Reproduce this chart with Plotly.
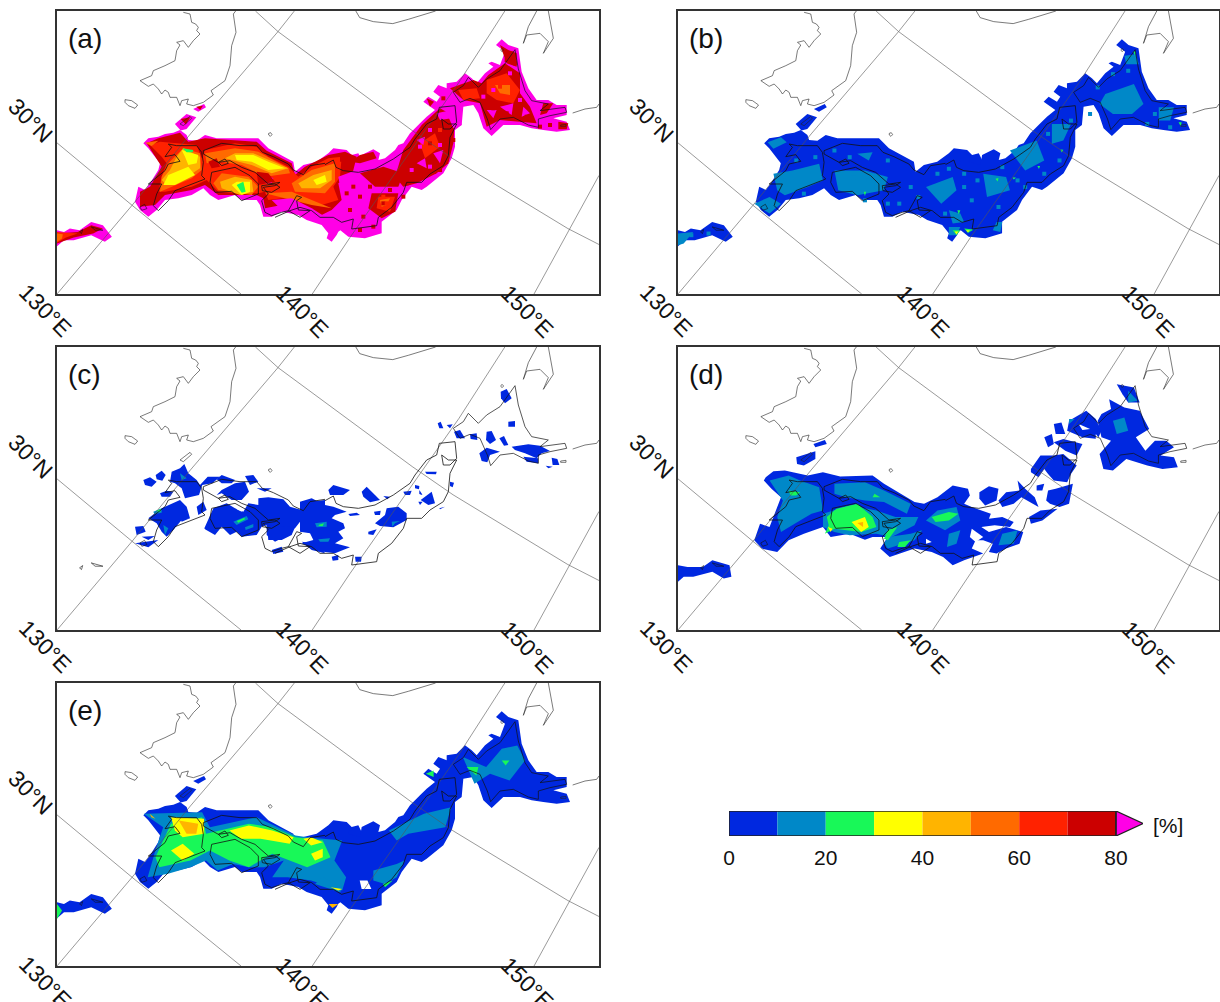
import plotly.graph_objects as go

# ---- colour classes (percent) ----
class_edges = [0, 10, 20, 30, 40, 50, 60, 70, 80]
class_colors = ["#0028e0", "#0088c8", "#18f858", "#ffff00", "#ffb400", "#ff6a00", "#ff2200", "#cc0000", "#ff00e6"]
tick_values = [0, 20, 40, 60, 80]
panel_letters = ["(a)", "(b)", "(c)", "(d)", "(e)"]

# crop frames the points were read in: left, right, bottom, top of the panel in that crop
frame_a = (147, 1540, 882, 30)
frame_b = (150, 1568, 882, 30)
frame_c = (147, 1540, 870, 18)
frame_d = (150, 1568, 870, 18)
frame_e = (147, 1540, 886, 38)
frame_a5 = (-204, 1422, 522, -327)
frame_a6 = (-849, 777, 792, -57)
frame_cw = (-204, 1422, 570, -279)
frame_ce = (-729, 897, 570, -279)
frame_cn = (-1029, 597, 765, -84)
frame_ck = (-204, 1422, 855, 6)

# ---- map-plane graticule ----
grid_130e = [(147, 882), (340, 615), (490, 400), (715, 92), (757, 30)]
grid_140e = [(803, 882), (900, 712), (1180, 245), (1298, 30)]
grid_150e = [(1373, 882), (1462, 690), (1540, 525)]
grid_30n = [(147, 427), (340, 615), (620, 882)]
grid_40n = [(657, 30), (715, 92), (1060, 390), (1165, 475), (1460, 685), (1540, 733)]

# ---- coastlines ----
coast_korea = [(175, 10), (195, 15), (200, 40), (212, 45), (220, 55), (215, 65), (225, 75), (205, 95), (190, 115), (175, 95), (155, 100), (165, 108), (155, 125), (150, 155), (120, 170), (100, 180), (85, 185), (80, 200), (45, 215), (70, 232), (85, 225), (100, 240), (110, 255), (120, 243), (130, 250), (135, 265), (155, 265), (165, 290), (170, 275), (190, 270), (185, 285), (205, 290), (235, 280), (265, 258), (258, 245), (300, 215), (315, 170), (320, 110), (333, 70), (325, 15), (332, 6)]
coast_jeju = [(0, 272), (20, 275), (38, 288), (30, 298), (10, 290), (0, 280), (0, 272)]
coast_tsushima = [(165, 345), (195, 322), (200, 328), (175, 350), (165, 345)]
coast_ulleung = [(431, 373), (437, 371), (441, 377), (436, 382), (431, 378), (431, 373)]
coast_russia = [(915, 30), (925, 50), (960, 62), (1010, 68), (1050, 55), (1090, 40), (1120, 30)]
coast_sakhalin = [(550, 40), (560, 15), (600, 10), (625, 35), (610, 70), (640, 25), (625, -57)]
coast_sakhalin2 = [(550, 40), (565, -10), (590, -57)]
coast_kuril = [(518, 222), (555, 210), (590, 205), (597, 195)]
coast_shikotan = [(482, 258), (498, 256), (498, 262), (482, 262), (482, 258)]
coast_rishiri = [(302, 33), (306, 28), (311, 33), (306, 38), (302, 33)]
coast_hokkaido = [(345, 32), (355, 90), (375, 155), (395, 185), (445, 195), (420, 215), (495, 205), (500, 220), (450, 230), (415, 240), (415, 265), (385, 258), (340, 235), (300, 240), (272, 272), (262, 240), (240, 190), (210, 178), (180, 190), (160, 160), (190, 140), (205, 115), (235, 145), (260, 120), (300, 95), (345, 32)]
coast_north_w = [(235, 140), (290, 118), (345, 125), (395, 125), (412, 145), (445, 158), (490, 180), (505, 198), (535, 212), (555, 185), (600, 178)]
coast_north_e = [(75, 182), (100, 168), (108, 190), (130, 200), (175, 205), (225, 195), (280, 165), (330, 130), (345, 105), (380, 60), (410, 45), (418, 10), (465, 5), (470, 55), (450, 75), (430, 75), (425, 45), (445, 60), (470, 60), (450, 100), (445, 155), (430, 185), (390, 210), (365, 235), (320, 235), (310, 265), (275, 310), (235, 340), (230, 365), (185, 370), (155, 375), (160, 345), (125, 355), (100, 340), (60, 340), (35, 320), (0, 310), (-30, 320), (-75, 340)]
coast_south_w = [(525, 340), (490, 320), (470, 325), (440, 335), (420, 325), (410, 290), (430, 270), (415, 250), (450, 245), (465, 235), (430, 240), (400, 215), (390, 205), (350, 190), (315, 170), (280, 175), (235, 150), (235, 140)]
coast_kii = [(525, 340), (555, 320), (520, 318), (515, 290), (530, 280), (515, 275), (490, 320)]
coast_shikoku = [(260, 205), (330, 190), (375, 215), (400, 240), (400, 270), (350, 290), (320, 262), (270, 265), (255, 235), (260, 205)]
coast_kyushu = [(130, 120), (155, 125), (215, 125), (230, 145), (235, 175), (230, 215), (240, 225), (200, 240), (150, 260), (130, 290), (100, 320), (85, 305), (95, 270), (110, 240), (70, 240), (120, 200), (130, 180), (165, 172), (150, 152), (120, 158), (140, 130), (130, 120)]
coast_awaji = [(410, 245), (450, 240), (465, 250), (440, 265), (412, 260), (410, 245)]
coast_bay = [(280, 175), (300, 165), (310, 178), (290, 185), (280, 175)]
coast_okinawa = [(235, 680), (265, 690), (245, 690), (235, 680)]
coast_amami = [(205, 695), (213, 688), (210, 700), (205, 695)]
coast_tanegashima = [(360, 620), (372, 612), (378, 625), (365, 630), (360, 620)]
coastlines = [
    (coast_korea, frame_ck, "#222222", 0.6), (coast_jeju, frame_ck, "#222222", 0.6), (coast_tsushima, frame_ck, "#222222", 0.6),
    (coast_ulleung, frame_ck, "#222222", 0.6), (coast_russia, frame_a, "#222222", 0.6), (coast_sakhalin, frame_a6, "#222222", 0.6),
    (coast_sakhalin2, frame_a6, "#222222", 0.6), (coast_kuril, frame_cn, "#222222", 0.6), (coast_shikotan, frame_cn, "#222222", 0.6),
    (coast_rishiri, frame_cn, "#222222", 0.6), (coast_hokkaido, frame_cn, "#111111", 0.7), (coast_north_w, frame_cw, "#111111", 0.8),
    (coast_north_e, frame_ce, "#111111", 0.8), (coast_south_w, frame_cw, "#111111", 0.8), (coast_kii, frame_cw, "#111111", 0.8),
    (coast_shikoku, frame_cw, "#111111", 0.8), (coast_kyushu, frame_cw, "#111111", 0.8), (coast_awaji, frame_cw, "#111111", 0.8),
    (coast_bay, frame_cw, "#111111", 0.8), (coast_okinawa, frame_a, "#111111", 0.6), (coast_amami, frame_a, "#111111", 0.6),
    (coast_tanegashima, frame_a, "#111111", 0.6),
]

# ---- radar-coverage outlines ----
cover_west = [(55, 70), (70, 55), (100, 50), (120, 42), (145, 38), (165, 30), (185, 45), (190, 60), (215, 62), (240, 45), (275, 55), (340, 55), (400, 55), (430, 85), (480, 110), (505, 125), (510, 155), (535, 135), (575, 125), (610, 100), (625, 85), (665, 90), (680, 105), (700, 100), (720, 140), (720, 320), (660, 320), (640, 335), (635, 345), (620, 365), (605, 355), (610, 340), (590, 315), (545, 300), (520, 285), (470, 275), (440, 290), (415, 290), (405, 255), (395, 240), (350, 240), (330, 225), (280, 240), (255, 225), (235, 205), (200, 225), (160, 235), (120, 240), (95, 270), (70, 290), (45, 270), (30, 245), (40, 200), (60, 210), (75, 190), (100, 150), (105, 130), (70, 85)]
cover_east = [(0, 365), (30, 375), (25, 395), (60, 405), (65, 375), (100, 358), (120, 370), (115, 390), (135, 385), (165, 360), (175, 345), (190, 340), (200, 325), (210, 310), (240, 280), (260, 260), (285, 240), (250, 215), (265, 200), (290, 215), (300, 200), (280, 185), (295, 165), (320, 175), (320, 160), (350, 155), (375, 130), (395, 145), (410, 160), (435, 130), (460, 110), (445, 100), (455, 95), (480, 105), (495, 65), (468, 45), (485, 28), (505, 45), (535, 55), (545, 125), (565, 175), (590, 210), (625, 210), (650, 225), (680, 225), (680, 255), (640, 265), (680, 275), (690, 300), (650, 305), (610, 300), (575, 295), (540, 285), (490, 285), (455, 318), (430, 295), (415, 250), (400, 225), (370, 230), (365, 285), (345, 300), (345, 350), (335, 385), (310, 430), (260, 470), (245, 480), (215, 470), (185, 510), (170, 540), (125, 575), (125, 610), (75, 625), (25, 620), (0, 600)]
cover_okinawa = [(147, 690), (165, 695), (180, 685), (205, 690), (235, 665), (265, 675), (288, 710), (270, 725), (235, 705), (190, 720), (165, 720), (147, 738)]
cover_tsushima = [(450, 370), (480, 340), (505, 350), (480, 385), (465, 390)]
cover_oki = [(497, 325), (525, 310), (530, 320), (510, 333)]
cover_parts = [(cover_west, frame_a5), (cover_east, frame_a6), (cover_okinawa, frame_a), (cover_tsushima, frame_a), (cover_oki, frame_a)]

# ---- panel a: (class value in %, outline) ----
patches_a = [
    (75, [(65, 70), (100, 55), (165, 38), (190, 65), (240, 55), (340, 62), (395, 65), (425, 92), (500, 130), (510, 165), (540, 140), (610, 105), (660, 95), (695, 110), (680, 170), (640, 190), (650, 240), (620, 270), (590, 285), (520, 260), (470, 255), (420, 265), (415, 235), (395, 225), (360, 225), (280, 225), (240, 195), (200, 210), (120, 225), (90, 255), (45, 260), (45, 215), (75, 200), (110, 140)]),
    (65, [(75, 75), (105, 65), (215, 75), (230, 115), (240, 90), (330, 70), (395, 80), (430, 110), (490, 140), (520, 170), (560, 140), (610, 115), (650, 110), (645, 170), (625, 200), (640, 240), (590, 255), (520, 240), (470, 235), (430, 240), (420, 215), (400, 220), (340, 220), (280, 215), (245, 180), (200, 200), (120, 215), (100, 215), (110, 170), (125, 130), (110, 110)]),
    (55, [(110, 170), (130, 130), (175, 85), (225, 100), (230, 150), (200, 175), (130, 205), (105, 215)]),
    (55, [(240, 100), (330, 85), (400, 95), (490, 145), (495, 160), (420, 170), (350, 135), (290, 125), (245, 130)]),
    (55, [(265, 190), (290, 160), (370, 170), (400, 200), (380, 225), (280, 210)]),
    (55, [(500, 190), (560, 150), (630, 130), (630, 185), (600, 220), (510, 215)]),
    (55, [(420, 220), (500, 215), (560, 240), (620, 265), (560, 255), (480, 235)]),
    (55, [(60, 68), (100, 62), (80, 78)]),
    (45, [(175, 85), (225, 110), (225, 145), (195, 165), (150, 180), (120, 190), (110, 180), (135, 150), (155, 110)]),
    (45, [(300, 115), (330, 100), (385, 100), (490, 145), (440, 160), (380, 135)]),
    (45, [(285, 185), (330, 170), (380, 180), (385, 215), (345, 225), (290, 205)]),
    (45, [(520, 190), (565, 165), (620, 150), (620, 180), (585, 205), (530, 205)]),
    (35, [(170, 90), (220, 105), (215, 130), (190, 135), (180, 110)]),
    (35, [(130, 165), (190, 140), (210, 165), (150, 195), (115, 195)]),
    (35, [(330, 105), (385, 105), (430, 125), (480, 145), (430, 150), (380, 125), (335, 120)]),
    (35, [(335, 185), (375, 185), (375, 215), (350, 225), (320, 195)]),
    (35, [(565, 180), (600, 165), (605, 185), (575, 195)]),
    (25, [(172, 85), (205, 90), (203, 97), (185, 97)]),
    (25, [(335, 195), (355, 185), (362, 215), (350, 218)]),
    (85, [(425, 165), (445, 175), (440, 190), (410, 190)]),
    (85, [(440, 240), (500, 235), (560, 265), (600, 290), (540, 290), (470, 270)]),
    (85, [(640, 170), (720, 140), (720, 320), (660, 300), (650, 230)]),
    (75, [(250, 125), (275, 115), (285, 140), (260, 145)]),
    (75, [(395, 155), (430, 160), (450, 185), (400, 195)]),
]
patches_a_islands = [
    (75, [(147, 700), (200, 695), (235, 675), (265, 685), (240, 700), (190, 712), (147, 730)]),
    (65, [(147, 695), (190, 698), (200, 700), (170, 712), (147, 728)]),
    (55, [(147, 700), (162, 702), (160, 715), (147, 725)]),
    (75, [(465, 355), (490, 350), (478, 372)]),
    (75, [(505, 318), (522, 315), (515, 328)]),
]
patches_a_east = [
    (75, [(245, 285), (300, 235), (345, 260), (340, 340), (325, 400), (290, 430), (230, 460), (190, 470), (165, 440), (190, 360)]),
    (75, [(330, 175), (400, 150), (425, 160), (445, 135), (495, 100), (540, 130), (540, 190), (570, 230), (590, 280), (540, 275), (480, 270), (440, 290), (420, 220), (370, 210)]),
    (75, [(95, 490), (175, 490), (165, 545), (125, 565), (85, 535)]),
    (75, [(60, 430), (130, 410), (190, 430), (175, 470), (105, 470)]),
    (75, [(30, 395), (60, 375), (100, 365), (110, 385), (60, 400)]),
    (75, [(0, 370), (25, 378), (20, 395), (0, 395)]),
    (75, [(610, 220), (640, 220), (620, 250), (600, 255)]),
    (75, [(655, 275), (685, 280), (680, 298), (655, 298)]),
    (75, [(480, 45), (505, 60), (530, 70), (530, 110), (500, 100)]),
    (75, [(260, 205), (282, 215), (270, 230)]),
    (65, [(440, 150), (500, 130), (540, 180), (520, 220), (470, 210), (440, 190)]),
    (65, [(115, 500), (165, 500), (150, 545), (110, 535)]),
    (65, [(240, 340), (285, 310), (300, 350), (255, 385)]),
    (65, [(355, 180), (410, 175), (420, 205), (370, 210)]),
    (55, [(465, 165), (510, 165), (510, 195), (480, 190)]),
    (55, [(120, 510), (150, 505), (140, 525), (125, 530)]),
    (85, [(230, 330), (255, 320), (250, 345)]),
    (85, [(280, 370), (310, 360), (300, 400)]),
    (85, [(230, 400), (255, 385), (260, 415)]),
    (85, [(480, 230), (520, 220), (515, 255)]),
    (85, [(440, 240), (470, 240), (460, 265)]),
    (85, [(550, 230), (570, 250), (545, 260)]),
    (85, [(355, 230), (365, 285), (340, 295), (325, 260)]),
    (85, [(290, 250), (335, 240), (335, 265), (300, 270)]),
]
speck_a_75 = [(30, 540), (60, 500), (90, 470), (130, 520), (150, 480), (200, 460), (190, 500), (160, 540), (70, 560), (40, 470), (110, 440), (20, 490), (100, 590), (60, 600), (225, 440), (250, 430), (300, 420), (230, 360), (200, 400), (270, 340), (320, 300), (340, 330), (430, 220), (460, 235), (500, 250), (530, 230), (560, 260), (600, 290), (630, 285), (500, 90), (515, 70), (525, 100), (345, 180), (310, 205)]
speck_a_85 = [(240, 350), (270, 300), (300, 345), (215, 420), (270, 410), (460, 180), (430, 200), (540, 210), (510, 130), (590, 240), (640, 240)]
speck_a_65 = [(130, 500), (140, 520), (255, 360), (300, 300), (480, 170), (520, 200)]

# ---- panel b ----
patches_b = [
    (15, [(1270, 280), (1345, 250), (1370, 310), (1340, 340), (1290, 340), (1255, 310)]),
    (15, [(1320, 165), (1350, 160), (1358, 190), (1325, 190)]),
    (15, [(400, 520), (450, 510), (520, 490), (530, 540), (490, 560), (430, 585), (410, 570)]),
    (15, [(560, 510), (640, 510), (700, 530), (690, 570), (620, 585), (570, 570)]),
    (15, [(350, 610), (390, 590), (420, 610), (390, 640)]),
    (15, [(150, 700), (190, 695), (165, 730), (150, 735)]),
    (15, [(800, 560), (870, 530), (880, 570), (840, 610)]),
    (15, [(950, 520), (1010, 530), (1020, 570), (960, 590)]),
    (15, [(1020, 450), (1090, 420), (1110, 480), (1060, 510)]),
    (15, [(1130, 370), (1180, 370), (1160, 420), (1130, 430)]),
    (15, [(860, 630), (890, 640), (900, 665), (870, 670)]),
    (15, [(860, 680), (890, 680), (880, 705), (860, 705)]),
    (15, [(1410, 320), (1450, 320), (1440, 360), (1410, 360)]),
    (15, [(985, 665), (1000, 665), (995, 695), (975, 690)]),
    (15, [(385, 425), (420, 410), (435, 425), (400, 445)]),
    (15, [(620, 460), (660, 455), (650, 480)]),
    (25, [(982, 535), (990, 533), (988, 543)]),
    (25, [(1092, 497), (1099, 497), (1096, 506)]),
    (25, [(1152, 447), (1160, 448), (1156, 456)]),
    (25, [(1027, 531), (1036, 531), (1030, 537)]),
    (25, [(637, 574), (643, 574), (640, 588)]),
    (25, [(882, 630), (890, 630), (886, 642)]),
    (25, [(870, 690), (890, 690), (880, 705)]),
    (25, [(900, 685), (925, 688), (910, 698)]),
    (25, [(1343, 152), (1350, 152), (1348, 165)]),
    (25, [(1462, 365), (1470, 365), (1468, 378)]),
    (35, [(875, 694), (885, 694), (880, 702)]),
    (35, [(905, 690), (915, 690), (910, 696)]),
]
speck_b_15 = [(830, 520), (860, 505), (900, 560), (920, 600), (850, 640), (760, 560), (780, 590), (730, 610), (990, 620), (1060, 560), (1090, 450), (1120, 400), (1150, 480), (1000, 500), (935, 540), (900, 520), (1040, 540), (1110, 520), (1180, 360), (1230, 340), (1250, 260), (1290, 220), (1330, 210), (1400, 340), (1380, 370), (1440, 380), (560, 450), (600, 470), (700, 480), (460, 480), (480, 580), (430, 540), (510, 470), (380, 610), (230, 700), (185, 705), (700, 610), (640, 600), (610, 530), (650, 540), (670, 560), (1050, 450)]

# ---- panel c ----
patches_c_w = [
    (5, [(55, 120), (75, 112), (95, 125), (80, 140), (60, 135)]),
    (5, [(92, 105), (110, 92), (122, 105), (112, 122), (95, 118)]),
    (5, [(105, 160), (125, 152), (145, 155), (135, 170), (110, 170)]),
    (5, [(140, 95), (165, 85), (178, 72), (190, 100), (215, 120), (225, 135), (248, 110), (285, 110), (262, 130), (232, 135), (222, 165), (180, 175), (170, 145), (150, 130), (135, 125)]),
    (5, [(275, 118), (290, 105), (330, 120), (320, 130), (290, 130)]),
    (5, [(330, 130), (360, 125), (372, 155), (350, 180), (320, 180), (290, 160), (275, 165), (290, 150)]),
    (5, [(360, 108), (385, 105), (400, 125), (375, 135)]),
    (5, [(395, 145), (440, 145), (420, 155)]),
    (5, [(70, 235), (110, 205), (165, 180), (185, 200), (195, 235), (170, 240), (145, 270), (125, 290), (110, 275), (95, 250)]),
    (5, [(215, 200), (235, 185), (245, 210), (220, 225)]),
    (5, [(165, 235), (195, 235), (170, 245)]),
    (5, [(30, 260), (55, 258), (62, 275), (35, 285)]),
    (5, [(50, 290), (90, 288), (70, 300)]),
    (5, [(30, 310), (60, 305), (100, 300), (70, 322)]),
    (5, [(238, 265), (255, 225), (265, 205), (305, 190), (330, 205), (355, 215), (370, 190), (400, 195), (400, 175), (430, 172), (475, 178), (495, 200), (530, 210), (555, 185), (600, 180), (600, 270), (570, 250), (525, 245), (510, 265), (470, 270), (470, 295), (450, 305), (425, 285), (425, 255), (410, 260), (395, 285), (350, 290), (335, 275), (315, 285), (290, 260), (270, 285), (240, 268)]),
    (5, [(425, 255), (510, 262), (500, 285), (470, 300), (430, 300)]),
    (5, [(440, 330), (470, 320), (475, 335), (445, 342)]),
    (5, [(530, 305), (565, 310), (590, 325), (600, 340), (560, 330)]),
    (15, [(85, 215), (110, 205), (110, 218), (88, 222)]),
    (15, [(325, 245), (365, 228), (370, 238), (335, 255)]),
    (15, [(360, 262), (385, 252), (385, 262), (362, 270)]),
    (15, [(165, 100), (185, 115), (170, 120)]),
    (15, [(115, 255), (130, 265), (120, 285)]),
    (25, [(92, 213), (108, 207), (106, 215)]),
    (25, [(335, 243), (358, 233), (360, 238), (340, 248)]),
]
holes_c = [
    [(335, 195), (355, 200), (350, 215), (335, 208)],
]
patches_c_e = [
    (5, [(0, 185), (35, 175), (75, 195), (100, 200), (140, 215), (105, 225), (95, 235), (130, 250), (135, 265), (115, 275), (130, 295), (105, 310), (150, 322), (105, 340), (70, 335), (35, 325), (5, 310), (40, 300), (30, 280), (0, 275)]),
    (5, [(85, 150), (100, 135), (150, 150), (130, 165), (90, 165)]),
    (5, [(185, 155), (200, 140), (225, 165), (240, 180), (210, 187), (190, 170)]),
    (5, [(250, 168), (270, 170), (262, 178)]),
    (5, [(310, 155), (335, 152), (330, 165), (315, 165)]),
    (5, [(145, 222), (170, 218), (180, 225), (150, 228)]),
    (5, [(222, 215), (242, 212), (240, 225), (225, 225)]),
    (5, [(225, 250), (255, 225), (260, 205), (295, 200), (320, 220), (320, 240), (280, 262), (240, 258)]),
    (5, [(205, 275), (230, 268), (220, 285), (205, 283)]),
    (5, [(95, 350), (115, 345), (115, 360), (98, 362)]),
    (5, [(165, 350), (185, 350), (183, 365), (167, 365)]),
    (5, [(375, 95), (410, 95), (408, 103), (380, 102)]),
    (5, [(345, 135), (358, 138), (357, 148), (345, 145)]),
    (5, [(358, 150), (368, 165), (358, 162)]),
    (5, [(375, 170), (395, 155), (405, 190), (385, 195), (362, 180)]),
    (5, [(355, 185), (368, 185), (360, 195)]),
    (5, [(450, 125), (462, 128), (458, 142), (450, 138)]),
    (5, [(418, 205), (435, 200), (420, 208)]),
    (15, [(45, 250), (80, 245), (80, 260), (50, 262)]),
    (15, [(55, 298), (90, 295), (85, 305), (60, 305)]),
    (15, [(275, 245), (300, 243), (285, 250), (277, 260)]),
    (25, [(55, 255), (72, 250), (68, 258), (58, 258)]),
]
patches_c_n = [
    (5, [(302, 50), (320, 42), (335, 70), (315, 85), (303, 70)]),
    (5, [(113, 145), (122, 140), (130, 160), (118, 160)]),
    (5, [(140, 150), (158, 148), (150, 160)]),
    (5, [(162, 170), (180, 165), (195, 190), (170, 190)]),
    (5, [(210, 178), (230, 175), (232, 195), (212, 192)]),
    (5, [(260, 170), (275, 168), (288, 195), (270, 207), (258, 195)]),
    (5, [(298, 190), (312, 183), (325, 210), (312, 212)]),
    (5, [(325, 140), (345, 138), (345, 155), (325, 155)]),
    (5, [(238, 235), (260, 218), (300, 230), (270, 240), (262, 262), (245, 258)]),
    (5, [(335, 215), (385, 208), (420, 212), (450, 228), (425, 235), (410, 250), (375, 235), (345, 225)]),
    (5, [(370, 245), (415, 250), (415, 265), (380, 260)]),
    (5, [(455, 248), (472, 252), (478, 270), (458, 270)]),
    (5, [(437, 272), (458, 275), (445, 280)]),
]

# ---- panel d ----
patches_d = [
    (5, [(380, 410), (400, 392), (430, 390), (470, 400), (490, 405), (530, 395), (575, 408), (660, 405), (690, 430), (770, 485), (795, 490), (830, 470), (870, 435), (910, 445), (915, 465), (900, 490), (920, 500), (970, 520), (965, 535), (1000, 530), (1030, 545), (1020, 560), (980, 555), (945, 560), (965, 575), (1010, 560), (1055, 575), (1045, 610), (1010, 625), (985, 640), (965, 635), (975, 610), (950, 600), (930, 600), (920, 625), (950, 640), (900, 660), (870, 675), (845, 650), (815, 635), (770, 625), (705, 650), (680, 625), (700, 590), (660, 590), (640, 598), (600, 580), (550, 590), (530, 560), (480, 580), (440, 600), (410, 635), (370, 625), (350, 600), (365, 550), (390, 560), (400, 530), (420, 470), (395, 445), (375, 420)]),
    (5, [(150, 675), (175, 680), (215, 680), (240, 660), (285, 675), (290, 710), (270, 715), (240, 695), (190, 710), (165, 710), (150, 725)]),
    (5, [(460, 350), (510, 332), (510, 355), (480, 375), (462, 370)]),
    (5, [(505, 310), (535, 298), (540, 310), (510, 320)]),
    (5, [(940, 455), (965, 437), (990, 445), (985, 480), (955, 495), (940, 475)]),
    (5, [(990, 480), (1010, 455), (1045, 450), (1040, 420), (1060, 445), (1085, 470), (1095, 500), (1050, 470), (1030, 490), (1000, 500)]),
    (5, [(1090, 435), (1110, 430), (1105, 450), (1090, 450)]),
    (5, [(1075, 385), (1100, 345), (1135, 345), (1160, 340), (1195, 375), (1180, 400), (1170, 425), (1135, 420), (1120, 400), (1110, 385), (1095, 410), (1075, 395)]),
    (5, [(1120, 450), (1140, 445), (1185, 430), (1175, 490), (1150, 500), (1125, 490), (1115, 480)]),
    (5, [(1070, 530), (1100, 510), (1145, 505), (1105, 540), (1075, 550)]),
    (5, [(1110, 290), (1130, 280), (1135, 310), (1120, 320)]),
    (5, [(1135, 305), (1160, 295), (1210, 310), (1195, 345), (1165, 330)]),
    (5, [(1135, 250), (1155, 245), (1165, 280), (1140, 280)]),
    (5, [(1175, 240), (1220, 210), (1245, 235), (1260, 270), (1250, 295), (1210, 290), (1170, 270)]),
    (5, [(1260, 220), (1285, 205), (1280, 175), (1320, 200), (1360, 210), (1385, 265), (1350, 290), (1375, 330), (1400, 300), (1430, 300), (1450, 320), (1415, 345), (1450, 350), (1460, 380), (1420, 385), (1380, 375), (1325, 355), (1290, 390), (1265, 385), (1255, 340), (1285, 300), (1260, 290), (1250, 240)]),
    (5, [(1300, 130), (1345, 140), (1360, 185), (1330, 185), (1315, 160)]),
    (15, [(390, 420), (440, 405), (470, 420), (520, 440), (530, 510), (500, 520), (470, 540), (420, 575), (410, 530), (425, 480)]),
    (15, [(560, 430), (640, 425), (690, 450), (760, 490), (750, 520), (690, 485), (640, 480), (590, 470), (560, 460)]),
    (15, [(530, 520), (600, 495), (670, 510), (720, 530), (780, 530), (770, 555), (710, 590), (670, 580), (600, 585), (560, 575), (530, 560)]),
    (15, [(700, 590), (760, 580), (790, 570), (770, 600), (700, 625), (690, 610)]),
    (15, [(800, 540), (830, 510), (880, 500), (890, 540), (850, 570)]),
    (15, [(860, 580), (890, 570), (880, 610), (855, 620)]),
    (15, [(1000, 580), (1040, 570), (1030, 610), (990, 615)]),
    (15, [(1290, 240), (1320, 230), (1330, 270), (1300, 280)]),
    (15, [(1175, 235), (1190, 235), (1175, 250)]),
    (15, [(1330, 150), (1355, 180), (1330, 185)]),
    (25, [(440, 450), (470, 455), (460, 465), (445, 465)]),
    (25, [(815, 530), (860, 515), (885, 520), (860, 540), (825, 545)]),
    (25, [(665, 460), (680, 470), (660, 470)]),
    (25, [(540, 530), (565, 505), (620, 490), (660, 530), (670, 560), (630, 575), (560, 565), (535, 580), (545, 555)]),
    (25, [(700, 570), (725, 560), (700, 600), (690, 595)]),
    (25, [(730, 605), (760, 600), (745, 620), (725, 620)]),
    (35, [(605, 545), (640, 530), (650, 560), (630, 575)]),
    (35, [(543, 560), (555, 565), (550, 575)]),
    (45, [(620, 548), (635, 545), (635, 560)]),
]
holes_d = [
    [(920, 565), (950, 590), (930, 605), (915, 590)],
    [(1200, 250), (1230, 265), (1210, 268)],
    [(1245, 280), (1260, 300), (1245, 305)],
    [(800, 595), (815, 605), (800, 610)],
]

# ---- panel e ----
patches_e = [
    (15, [(370, 430), (520, 425), (540, 470), (660, 440), (760, 495), (790, 500), (880, 510), (860, 570), (890, 620), (880, 660), (800, 630), (740, 620), (700, 620), (730, 570), (680, 590), (640, 590), (600, 580), (560, 600), (530, 570), (490, 590), (430, 610), (380, 620), (400, 540), (420, 470)]),
    (15, [(1190, 260), (1250, 290), (1290, 235), (1330, 225), (1350, 270), (1310, 330), (1260, 310), (1220, 340)]),
    (15, [(1090, 430), (1160, 410), (1145, 470), (1050, 490), (1020, 510), (1000, 480)]),
    (15, [(960, 600), (1020, 580), (1040, 570), (1020, 620), (990, 640), (960, 630)]),
    (15, [(830, 620), (880, 650), (875, 665), (810, 640)]),
    (25, [(420, 510), (440, 460), (520, 440), (530, 490), (640, 460), (700, 470), (760, 500), (830, 510), (850, 560), (790, 590), (700, 550), (640, 590), (590, 570), (540, 540), (490, 570), (410, 590), (400, 560)]),
    (25, [(985, 640), (1010, 630), (990, 650)]),
    (25, [(1290, 270), (1310, 270), (1300, 285)]),
    (25, [(1200, 290), (1230, 290), (1225, 315)]),
    (25, [(1095, 310), (1115, 300), (1115, 320)]),
    (25, [(147, 700), (160, 720), (147, 745)]),
    (35, [(440, 440), (525, 445), (525, 490), (470, 500), (450, 480)]),
    (35, [(440, 540), (470, 520), (500, 550), (470, 570)]),
    (35, [(590, 480), (640, 465), (700, 480), (755, 500), (745, 520), (670, 505), (620, 505)]),
    (35, [(800, 550), (830, 535), (830, 560), (810, 570)]),
    (35, [(780, 505), (800, 500), (830, 515), (800, 525)]),
    (35, [(850, 650), (880, 655), (870, 660)]),
    (45, [(460, 450), (510, 460), (505, 490), (480, 490)]),
    (45, [(845, 700), (870, 700), (855, 712)]),
    (45, [(385, 430), (400, 445), (390, 440)]),
]
holes_e = [
    [(925, 630), (945, 630), (955, 655), (930, 655)],
]

W, H = 1220, 1002
# plot areas in page pixels: left, right, top, bottom
panel_boxes = [(57, 599, 11, 294), (678, 1219, 11, 294), (57, 599, 347, 630), (678, 1219, 347, 630), (57, 599, 683, 966)]


def class_color(value):
    for i in range(len(class_edges) - 1):
        if class_edges[i] <= value < class_edges[i + 1]:
            return class_colors[i]
    return class_colors[-1]


def to_common(points, frame):
    """Map points read in a crop to the common map plane (that of panel a)."""
    l, r, b, t = frame
    la, ra, ba, ta = frame_a
    xs = [la + (p[0] - l) * (ra - la) / (r - l) for p in points]
    ys = [ta + (p[1] - t) * (ba - ta) / (b - t) for p in points]
    return xs, ys


fig = go.Figure()


def add_patch(points, color, ax, frame):
    xs, ys = to_common(points, frame)
    fig.add_trace(go.Scatter(x=xs + xs[:1], y=ys + ys[:1], mode="lines", fill="toself", fillcolor=color,
                             line=dict(width=0, color=color), hoverinfo="skip", showlegend=False,
                             xaxis="x" + ax, yaxis="y" + ax))


def add_line(points, color, width, ax, frame):
    xs, ys = to_common(points, frame)
    fig.add_trace(go.Scatter(x=xs, y=ys, mode="lines", line=dict(width=width, color=color), hoverinfo="skip",
                             showlegend=False, xaxis="x" + ax, yaxis="y" + ax))


def add_specks(points, value, ax, frame):
    xs, ys = to_common(points, frame)
    fig.add_trace(go.Scatter(x=xs, y=ys, mode="markers", marker=dict(symbol="square", size=4, color=class_color(value), line=dict(width=0)),
                             hoverinfo="skip", showlegend=False, xaxis="x" + ax, yaxis="y" + ax))


panels = [
    ("", 85, [(patches_a, frame_a5), (patches_a_east, frame_a6), (patches_a_islands, frame_a)], [(speck_a_75, 75, frame_a6), (speck_a_85, 85, frame_a6), (speck_a_65, 65, frame_a6)], []),
    ("2", 5, [(patches_b, frame_b)], [(speck_b_15, 15, frame_b)], []),
    ("3", None, [(patches_c_w, frame_cw), (patches_c_e, frame_ce), (patches_c_n, frame_cn)], [], [(holes_c, frame_cw)]),
    ("4", None, [(patches_d, frame_d)], [], [(holes_d, frame_d)]),
    ("5", 5, [(patches_e, frame_e)], [], [(holes_e, frame_e)]),
]

layout_axes = {}
annotations = []


def label(text, px, py, angle=0, size=22):
    annotations.append(dict(text=text, xref="paper", yref="paper", x=px / W, y=1 - py / H, showarrow=False,
                            textangle=angle, font=dict(family="Liberation Sans", size=size, color="#111111"),
                            xanchor="center", yanchor="middle"))


for (ax, base, patch_sets, speck_sets, hole_sets), box, letter in zip(panels, panel_boxes, panel_letters):
    if base is not None:
        for part, frame in cover_parts:
            add_patch(part, class_color(base), ax, frame)
    for patches, frame in patch_sets:
        for value, pts in patches:
            add_patch(pts, class_color(value), ax, frame)
    for pts, value, frame in speck_sets:
        add_specks(pts, value, ax, frame)
    for holes, frame in hole_sets:
        for pts in holes:
            add_patch(pts, "#ffffff", ax, frame)
    for g in (grid_130e, grid_140e, grid_150e, grid_30n, grid_40n):
        add_line(g, "#555555", 0.6, ax, frame_a)
    for pts, frame, color, width in coastlines:
        add_line(pts, color, width, ax, frame)
    left, right, top, bottom = box
    common = dict(showgrid=False, zeroline=False, showticklabels=False, ticks="", showline=True, mirror=True,
                  linecolor="#333333", linewidth=1.5)
    layout_axes["xaxis" + ax] = dict(common, domain=[left / W, right / W], range=[frame_a[0], frame_a[1]], anchor="y" + ax)
    layout_axes["yaxis" + ax] = dict(common, domain=[1 - bottom / H, 1 - top / H], range=[frame_a[2], frame_a[3]], anchor="x" + ax)
    label(letter, left + 28, top + 27, 0, 28)
    label("30°N", left - 27, top + 109, 45, 23)
    label("130°E", left - 12, top + 299, 45, 23)
    label("140°E", left + 245, top + 300, 45, 23)
    label("150°E", left + 470, top + 300, 45, 23)

# ---- colour key ----
bar_px = (729, 1143, 811, 836)
for i, color in enumerate(class_colors[:-1]):
    fig.add_trace(go.Bar(x=[class_edges[i + 1] - class_edges[i]], base=[class_edges[i]], y=[0.5], width=[1], orientation="h",
                         marker=dict(color=color, line=dict(width=0)), hoverinfo="skip", showlegend=False,
                         xaxis="x6", yaxis="y6"))
fig.add_trace(go.Scatter(x=[80, 85.6, 80, 80], y=[0, 0.5, 1, 0], mode="lines", fill="toself", fillcolor=class_colors[-1],
                         line=dict(width=1.3, color="#222222"), hoverinfo="skip", showlegend=False, xaxis="x6", yaxis="y6",
                         cliponaxis=False))
fig.add_trace(go.Scatter(x=[0, 80, 80, 0, 0], y=[0, 0, 1, 1, 0], mode="lines", line=dict(width=1.5, color="#222222"),
                         hoverinfo="skip", showlegend=False, xaxis="x6", yaxis="y6", cliponaxis=False))
layout_axes["xaxis6"] = dict(domain=[bar_px[0] / W, bar_px[1] / W], range=[0, 85.6], anchor="y6", showgrid=False, zeroline=False,
                             tickvals=tick_values, ticktext=[str(v) for v in tick_values], ticks="outside", ticklen=3,
                             tickcolor="rgba(0,0,0,0)", tickfont=dict(family="Liberation Sans", size=21, color="#111111"),
                             showline=False)
layout_axes["yaxis6"] = dict(domain=[1 - bar_px[3] / H, 1 - bar_px[2] / H], range=[0, 1], anchor="x6", showgrid=False,
                             zeroline=False, showticklabels=False, ticks="", showline=False)
annotations.append(dict(text="[%]", xref="paper", yref="paper", x=1168 / W, y=1 - 825 / H, showarrow=False,
                        font=dict(family="Liberation Sans", size=21, color="#111111"), xanchor="center", yanchor="middle"))

fig.update_layout(width=W, height=H, margin=dict(l=0, r=0, t=0, b=0, autoexpand=False), paper_bgcolor="white", plot_bgcolor="white",
                  showlegend=False, barmode="overlay", annotations=annotations, **layout_axes)
fig.write_html("out.html", post_script="document.body.style.margin='0';", config={"displayModeBar": False})
